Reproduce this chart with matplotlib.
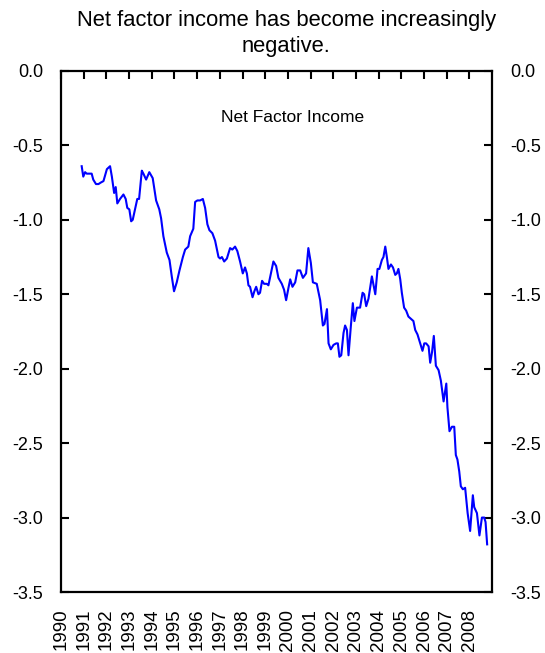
import numpy as np
import matplotlib.pyplot as plt

plt.rcParams['font.family'] = ['Liberation Sans', 'DejaVu Sans']

# ---------- DATA ----------
years = [1990.91, 1990.98, 1991.06, 1991.13, 1991.28, 1991.35, 1991.42, 1991.54, 1991.65, 1991.75,
         1991.87, 1992.02, 1992.16, 1992.24, 1992.34, 1992.41, 1992.48, 1992.60, 1992.75, 1992.85,
         1992.92, 1993.01, 1993.09, 1993.16, 1993.26, 1993.36, 1993.44, 1993.56, 1993.63, 1993.75,
         1993.89, 1994.04, 1994.19, 1994.33, 1994.41, 1994.51, 1994.66, 1994.78, 1994.88, 1994.98,
         1995.10, 1995.22, 1995.37, 1995.47, 1995.61, 1995.69, 1995.83, 1995.91, 1996.01, 1996.13,
         1996.25, 1996.35, 1996.45, 1996.54, 1996.67, 1996.79, 1996.94, 1997.01, 1997.09, 1997.19,
         1997.31, 1997.45, 1997.55, 1997.67, 1997.77, 1997.89, 1998.01, 1998.11, 1998.19, 1998.26,
         1998.33, 1998.44, 1998.52, 1998.60, 1998.70, 1998.77, 1998.86, 1998.95, 1999.07, 1999.14,
         1999.25, 1999.36, 1999.48, 1999.58, 1999.73, 1999.83, 1999.92, 2000.02, 2000.10, 2000.20,
         2000.32, 2000.42, 2000.54, 2000.66, 2000.80, 2000.90, 2001.01, 2001.10, 2001.27, 2001.42,
         2001.54, 2001.61, 2001.72, 2001.79, 2001.89, 2002.01, 2002.13, 2002.20, 2002.27, 2002.35,
         2002.45, 2002.52, 2002.60, 2002.67, 2002.77, 2002.86, 2002.93, 2003.04, 2003.18, 2003.29,
         2003.36, 2003.45, 2003.55, 2003.70, 2003.85, 2003.95, 2004.03, 2004.14, 2004.21, 2004.29,
         2004.36, 2004.43, 2004.54, 2004.63, 2004.73, 2004.80, 2004.87, 2004.95, 2005.02, 2005.12,
         2005.21, 2005.31, 2005.46, 2005.53, 2005.61, 2005.71, 2005.83, 2005.93, 2006.01, 2006.09,
         2006.20, 2006.27, 2006.35, 2006.43, 2006.52, 2006.64, 2006.74, 2006.86, 2006.98, 2007.03,
         2007.12, 2007.23, 2007.33, 2007.40, 2007.47, 2007.55, 2007.62, 2007.71, 2007.81, 2007.92,
         2008.03, 2008.15, 2008.21, 2008.33, 2008.44, 2008.55, 2008.65, 2008.71, 2008.78]
nfi = [-0.64, -0.71, -0.68, -0.69, -0.69, -0.69, -0.73, -0.76, -0.76, -0.75,
       -0.74, -0.66, -0.64, -0.71, -0.82, -0.78, -0.89, -0.86, -0.83, -0.86,
       -0.92, -0.93, -1.01, -1.00, -0.93, -0.86, -0.86, -0.67, -0.69, -0.73,
       -0.68, -0.72, -0.87, -0.93, -0.99, -1.11, -1.22, -1.27, -1.38, -1.48,
       -1.42, -1.34, -1.25, -1.20, -1.18, -1.11, -1.06, -0.88, -0.87, -0.87,
       -0.86, -0.92, -1.03, -1.07, -1.09, -1.14, -1.25, -1.26, -1.25, -1.28,
       -1.26, -1.19, -1.20, -1.18, -1.21, -1.28, -1.36, -1.32, -1.36, -1.44,
       -1.45, -1.52, -1.48, -1.45, -1.50, -1.49, -1.41, -1.43, -1.43, -1.44,
       -1.36, -1.28, -1.31, -1.39, -1.43, -1.47, -1.54, -1.46, -1.40, -1.45,
       -1.42, -1.34, -1.34, -1.39, -1.36, -1.19, -1.29, -1.42, -1.43, -1.54,
       -1.71, -1.70, -1.60, -1.83, -1.87, -1.84, -1.83, -1.83, -1.92, -1.91,
       -1.76, -1.71, -1.74, -1.91, -1.72, -1.56, -1.68, -1.59, -1.59, -1.49,
       -1.50, -1.58, -1.53, -1.38, -1.50, -1.33, -1.33, -1.27, -1.25, -1.18,
       -1.25, -1.33, -1.30, -1.32, -1.37, -1.36, -1.33, -1.40, -1.49, -1.59,
       -1.61, -1.65, -1.67, -1.68, -1.74, -1.77, -1.83, -1.88, -1.83, -1.83,
       -1.85, -1.96, -1.89, -1.78, -1.98, -2.01, -2.08, -2.22, -2.10, -2.26,
       -2.42, -2.39, -2.39, -2.58, -2.61, -2.69, -2.79, -2.81, -2.80, -2.97,
       -3.09, -2.85, -2.93, -2.97, -3.12, -3.00, -3.00, -3.03, -3.18]

year_ticks = list(range(1990, 2009))
y_ticks = [0.0, -0.5, -1.0, -1.5, -2.0, -2.5, -3.0, -3.5]

# ---------- PLOT ----------
fig = plt.figure(figsize=(5.45, 6.53), dpi=100)
ax = fig.add_axes([0.112, 0.0934, 0.791, 0.798])

ax.plot(years, nfi, color='#0000ff', linewidth=1.5)

ax.set_xlim(1990, 2009)
ax.set_ylim(-3.5, 0.0)

for s in ax.spines.values():
    s.set_linewidth(1.6)

ax.set_yticks(y_ticks)
ax.set_yticklabels([f"{v:.1f}" for v in y_ticks])
ax.tick_params(axis='y', direction='in', length=6, width=1.5, labelsize=13,
               left=True, right=True, labelleft=True, labelright=True, pad=13)

ax.set_xticks(year_ticks)
ax.set_xticklabels([str(y) for y in year_ticks], rotation=90)
ax.tick_params(axis='x', direction='in', length=6, width=1.5, labelsize=13.5,
               top=True, bottom=False, labeltop=False, labelbottom=True, pad=12)

ax.text(0.536, 0.91, "Net Factor Income", transform=ax.transAxes,
        ha='center', va='center', fontsize=12.5)

fig.suptitle("Net factor income has become increasingly\nnegative.",
             x=0.525, y=0.985, fontsize=15.8, va='top', linespacing=1.3)

fig.savefig("out.png", dpi=100)
